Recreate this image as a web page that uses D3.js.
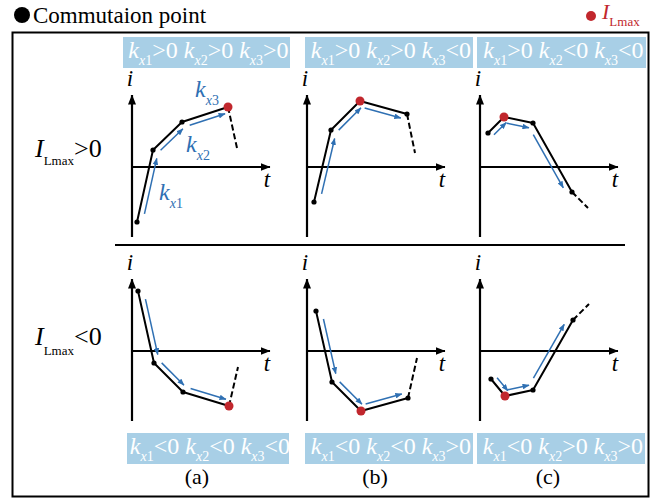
<!DOCTYPE html>
<html>
<head>
<meta charset="utf-8">
<script src="https://cdn.jsdelivr.net/npm/d3@7"></script>
</head>
<body style="margin:0">
<script>
// ---- data (t, i in axis units, origin at axis crossing) ----
const columnNames = ["(a)", "(b)", "(c)"];
const rowSigns = [">0", "<0"];
const slopeSignsTop = [[">0", ">0", ">0"], [">0", ">0", "<0"], [">0", "<0", "<0"]];
const slopeSignsBottom = [["<0", "<0", "<0"], ["<0", "<0", ">0"], ["<0", ">0", ">0"]];

// four commutation points + end of the dashed continuation
const tTop = [[5, 21, 50, 96, 105], [7, 24, 53, 100, 108], [8, 24, 53, 92, 108]];
const iTop = [[-55, 17, 45, 60, 19], [-35, 37, 66, 53, 14], [34, 50, 44, -25, -41]];
const tBottom = [[6, 22, 51, 97, 106], [9, 25, 54, 101, 110], [11, 25, 53, 93, 109]];
const iBottom = [[60, -12, -41, -55, -16], [40, -31, -60, -47, -7], [-28, -45, -39, 31, 47]];
// which point is I_Lmax (red)
const peakIndex = [3, 2, 1];

// slope labels in panel (a), top row
const kNames = ["x1", "x2", "x3"];
const kLabelT = [27, 54, 63];
const kLabelI = [-33, 15, 70];

const tDomain = [0, 138];
const iDomain = [-70, 72];

// ---- layout ----
const width = 670, height = 499;
const axisX = [132, 307, 480];
const axisY = [167, 351];
const topBoxes = [[123, 290], [305, 473], [477, 646]];
const bottomBoxes = [[127, 289], [305, 473], [477, 645]];
const labelX = [197, 375, 548];

const blue = "#2f70b3", red = "#c1272d", boxBlue = "#a8cfe6";
const fontName = "Times New Roman";

const svg = d3.select("body")
    .append("svg")
    .attr("width", width)
    .attr("height", height)
    .attr("font-family", fontName);

const defs = svg.append("defs");
function arrowMarker(id, color, len, half) {
    defs.append("marker")
        .attr("id", id)
        .attr("markerUnits", "userSpaceOnUse")
        .attr("viewBox", `0 ${-half} ${len} ${half * 2}`)
        .attr("refX", len - 0.5)
        .attr("refY", 0)
        .attr("markerWidth", len)
        .attr("markerHeight", half * 2)
        .attr("orient", "auto")
        .append("path")
        .attr("d", `M0,${-half}L${len},0L0,${half}Z`)
        .attr("fill", color);
}
arrowMarker("axisHead", "#000", 10, 4);
arrowMarker("blueHead", blue, 7, 2.8);

function plainText(g, x, y, size, txt) {
    return g.append("text")
        .attr("class", "serif")
        .attr("x", x)
        .attr("y", y)
        .attr("font-size", size)
        .attr("font-family", fontName)
        .style("font-family", `"${fontName}"`)
        .text(txt);
}

// text with subscripts: pieces = [text, kind], kind: i / n (main), si / sn (subscript)
function subText(g, x, y, pieces, size, subSize, shift, color, anchor) {
    const t = g.append("text")
        .attr("class", "serif")
        .attr("x", x)
        .attr("y", y)
        .attr("fill", color)
        .attr("font-size", size)
        .attr("text-anchor", anchor || "start")
        .attr("font-family", fontName)
        .style("font-family", `"${fontName}"`);
    let low = false;
    pieces.forEach(([txt, kind]) => {
        const isSub = kind[0] === "s";
        const sp = t.append("tspan").text(txt);
        if (isSub && !low) sp.attr("dy", shift);
        if (!isSub && low) sp.attr("dy", -shift);
        low = isSub;
        sp.attr("font-size", isSub ? subSize : size)
            .attr("font-style", kind.endsWith("i") ? "italic" : "normal");
    });
    return t;
}

// ---- legend ----
svg.append("circle").attr("cx", 22).attr("cy", 15).attr("r", 8).attr("fill", "#000");
plainText(svg, 33, 23, 23, "Commutaion point");
svg.append("circle").attr("cx", 591).attr("cy", 16).attr("r", 5).attr("fill", red);
subText(svg, 602, 19, [["I", "i"], ["Lmax", "sn"]], 22, 13, 7, red);

// ---- frame ----
svg.append("rect")
    .attr("x", 12.5).attr("y", 32.5)
    .attr("width", 636).attr("height", 464)
    .attr("fill", "none").attr("stroke", "#000").attr("stroke-width", 2);
svg.append("line")
    .attr("x1", 115).attr("x2", 625)
    .attr("y1", 245).attr("y2", 245)
    .attr("stroke", "#000").attr("stroke-width", 2);

// ---- row labels ----
rowSigns.forEach((s, r) => {
    subText(svg, 35, r === 0 ? 157 : 345, [["I", "i"], ["Lmax", "sn"], [s, "n"]], 26, 13, r === 0 ? 8 : 10, "#000");
});

// ---- headers ----
function header(box, y0, signs) {
    svg.append("rect")
        .attr("x", box[0]).attr("y", y0)
        .attr("width", box[1] - box[0]).attr("height", 31)
        .attr("fill", boxBlue);
    const pieces = [];
    signs.forEach((s, j) => {
        pieces.push(["k", "i"], ["x", "si"], [String(j + 1), "sn"], [s + (j < 2 ? "\u00a0" : ""), "n"]);
    });
    subText(svg, (box[0] + box[1]) / 2 + 2, y0 + 21, pieces, 24, 14, 7, "#fff", "middle");
}
slopeSignsTop.forEach((s, c) => header(topBoxes[c], 37, s));
slopeSignsBottom.forEach((s, c) => header(bottomBoxes[c], 433, s));

columnNames.forEach((n, c) => {
    plainText(svg, labelX[c], 484, 22, n).attr("text-anchor", "middle");
});

// ---- panels ----
function panel(r, c, ts, is) {
    const x = d3.scaleLinear().domain(tDomain).range([axisX[c], axisX[c] + tDomain[1]]);
    const y = d3.scaleLinear().domain(iDomain).range([axisY[r] - iDomain[0], axisY[r] - iDomain[1]]);
    const g = svg.append("g");

    // axes
    g.append("line")
        .attr("x1", x(0)).attr("x2", x(0))
        .attr("y1", y(iDomain[0])).attr("y2", y(iDomain[1]))
        .attr("stroke", "#000").attr("stroke-width", 2.2)
        .attr("marker-end", "url(#axisHead)");
    g.append("line")
        .attr("x1", x(0)).attr("x2", x(tDomain[1]))
        .attr("y1", y(0)).attr("y2", y(0))
        .attr("stroke", "#000").attr("stroke-width", 2.2)
        .attr("marker-end", "url(#axisHead)");
    plainText(g, x(0) - 2, y(iDomain[1]) - 9, 23, "i")
        .attr("font-style", "italic").attr("text-anchor", "middle");
    plainText(g, x(tDomain[1]) - 3, y(0) + 20, 23, "t")
        .attr("font-style", "italic").attr("text-anchor", "middle");

    const pts = ts.map((t, k) => [x(t), y(is[k])]);
    const line = d3.line();

    // current trajectory
    g.append("path")
        .attr("d", line(pts.slice(0, 4)))
        .attr("fill", "none").attr("stroke", "#000").attr("stroke-width", 2)
        .attr("stroke-linejoin", "round");
    g.append("path")
        .attr("d", line(pts.slice(3)))
        .attr("fill", "none").attr("stroke", "#000").attr("stroke-width", 2)
        .attr("stroke-dasharray", "6,3");

    // slope arrows, offset beside each segment
    const side = r === 0 ? 1 : -1, off = 5.5;
    for (let k = 0; k < 3; k++) {
        const p = pts[k], q = pts[k + 1];
        const dx = q[0] - p[0], dy = q[1] - p[1];
        const len = Math.hypot(dx, dy);
        const nx = -dy / len * off * side, ny = dx / len * off * side;
        g.append("line")
            .attr("x1", p[0] + dx * 0.13 + nx).attr("y1", p[1] + dy * 0.13 + ny)
            .attr("x2", p[0] + dx * 0.9 + nx).attr("y2", p[1] + dy * 0.9 + ny)
            .attr("stroke", blue).attr("stroke-width", 1.5)
            .attr("marker-end", "url(#blueHead)");
    }

    // commutation points and I_Lmax
    g.selectAll("circle")
        .data(pts.slice(0, 4))
        .enter()
        .append("circle")
        .attr("cx", d => d[0])
        .attr("cy", d => d[1])
        .attr("r", (d, k) => k === peakIndex[c] ? 4.5 : 2.6)
        .attr("fill", (d, k) => k === peakIndex[c] ? red : "#000");

    if (r === 0 && c === 0) {
        kNames.forEach((kn, j) => {
            subText(g, x(kLabelT[j]), y(kLabelI[j]), [["k", "i"], [kn[0], "si"], [kn[1], "sn"]], 24, 14, 8, blue);
        });
    }
}

for (let c = 0; c < 3; c++) {
    panel(0, c, tTop[c], iTop[c]);
    panel(1, c, tBottom[c], iBottom[c]);
}

// re-apply the family once fonts are ready, so the serif face is used
if (document.fonts && document.fonts.ready) {
    document.fonts.ready.then(() => {
        svg.selectAll("text.serif").style("font-family", `"${fontName}", "Liberation Serif"`);
    });
}
</script>
</body>
</html>
